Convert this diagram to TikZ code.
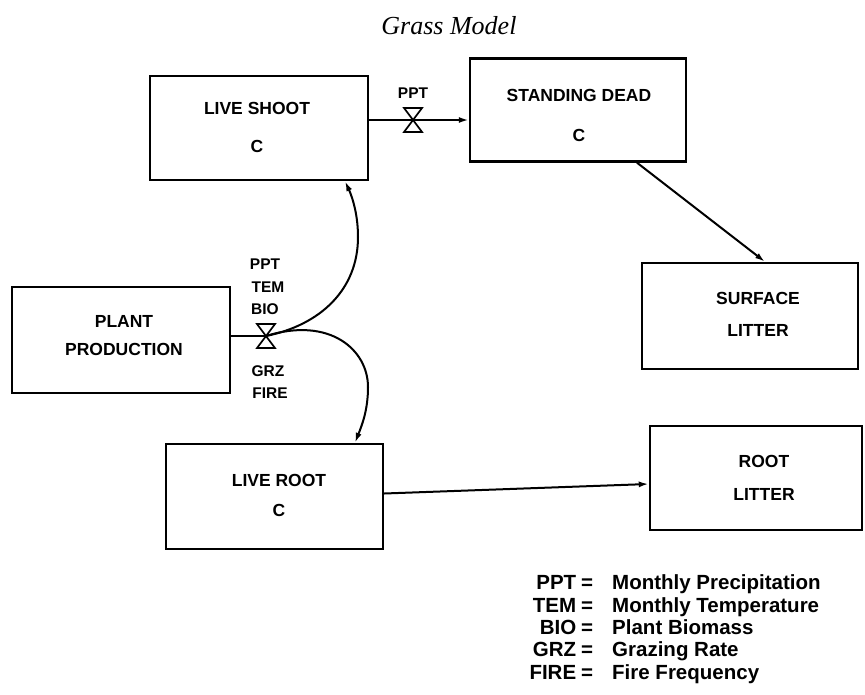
\documentclass[tikz,border=0pt]{standalone}
\usepackage{fontspec}
\setmainfont{Liberation Serif}
\setsansfont{Liberation Sans}
\usetikzlibrary{arrows.meta}
\begin{document}
\begin{tikzpicture}[x=1pt,y=-1pt,
  box/.style={draw, line width=2.4pt, inner sep=0pt},
  boxtext/.style={align=center, inner sep=0pt, font=\sffamily\bfseries\fontsize{17.5}{28}\selectfont},
  flow/.style={line width=2pt, -{Latex[length=10pt,width=6pt]}},
  plain/.style={line width=2pt},
  lab/.style={inner sep=0pt, font=\sffamily\bfseries\fontsize{15.5}{18}\selectfont},
  leg/.style={inner sep=0pt, anchor=base west, font=\sffamily\bfseries\fontsize{20.5}{24}\selectfont},
  valve/.pic={\draw[fill=white, line width=1.7pt, line join=miter] (-9,-12) -- (9,-12) -- (-9,12) -- (9,12) -- cycle;}]
\useasboundingbox (0,0) rectangle (865,694);

% title
\node[inner sep=0pt, font=\fontsize{26}{30}\selectfont\itshape] (title) at (449,26) {Grass Model};

% boxes
\node[box, minimum width=218pt, minimum height=104pt] (ls) at (259,128) {};
\node[box, minimum width=216pt, minimum height=103pt] (sd) at (578,110) {};
\node[box, minimum width=216pt, minimum height=106pt] (sl) at (750,316) {};
\node[box, minimum width=218pt, minimum height=106pt] (pp) at (121,340) {};
\node[box, minimum width=217pt, minimum height=105pt] (lr) at (274.5,496.5) {};
\node[box, minimum width=212pt, minimum height=104pt] (rl) at (756,478) {};

% box texts
\node[boxtext] (lst) at (257,127) {LIVE SHOOT\\[10pt]C};
\node[boxtext] (sdt) at (579,115) {STANDING DEAD\\[12pt]C};
\node[boxtext] (slt) at (758,314) {SURFACE\\[4pt]LITTER};
\node[boxtext] (ppt) at (124,336) {PLANT\\PRODUCTION};
\node[boxtext] (lrt) at (279,495) {LIVE ROOT\\[2pt]C};
\node[boxtext] (rlt) at (764,478) {ROOT\\[5pt]LITTER};

% valves
\coordinate (v1) at (413,120);
\coordinate (v2) at (266,336);

% connectors
\draw[flow] (ls.east |- v1) -- (sd.west |- v1);
\draw[plain] (pp.east |- v2) -- (v2);
\draw[flow] (v2) .. controls (320,325) and (358,290) .. (358,237)
  .. controls (358,210) and (350,192) .. ([xshift=86pt]ls.south);
\draw[flow] (v2) .. controls (330,316) and (368,350) .. (368,387)
  .. controls (368,410) and (362,425) .. ([xshift=80.5pt]lr.north);
\draw[flow] ([xshift=59pt]sd.south) -- ([xshift=15pt]sl.north);
\draw[flow] ([yshift=3pt]lr.east) -- ([yshift=-6pt]rl.west);

\pic at (v1) {valve};
\pic at (v2) {valve};

% valve labels
\node[lab] (l1) at (413,93) {PPT};
\node[lab] (l2) at (265,264) {PPT};
\node[lab] (l3) at (268,287) {TEM};
\node[lab] (l4) at (265,309) {BIO};
\node[lab] (l5) at (268,371) {GRZ};
\node[lab] (l6) at (270,393) {FIRE};

% legend
\node[leg] (g1) at (531,589) {\makebox[45pt][r]{PPT}\hspace{6pt}\makebox[10pt]{=}\hspace{20pt}Monthly Precipitation};
\node[leg] (g2) at (531,612) {\makebox[45pt][r]{TEM}\hspace{6pt}\makebox[10pt]{=}\hspace{20pt}Monthly Temperature};
\node[leg] (g3) at (531,634) {\makebox[45pt][r]{BIO}\hspace{6pt}\makebox[10pt]{=}\hspace{20pt}Plant Biomass};
\node[leg] (g4) at (531,656) {\makebox[45pt][r]{GRZ}\hspace{6pt}\makebox[10pt]{=}\hspace{20pt}Grazing Rate};
\node[leg] (g5) at (531,679) {\makebox[45pt][r]{FIRE}\hspace{6pt}\makebox[10pt]{=}\hspace{20pt}Fire Frequency};
\end{tikzpicture}
\end{document}
